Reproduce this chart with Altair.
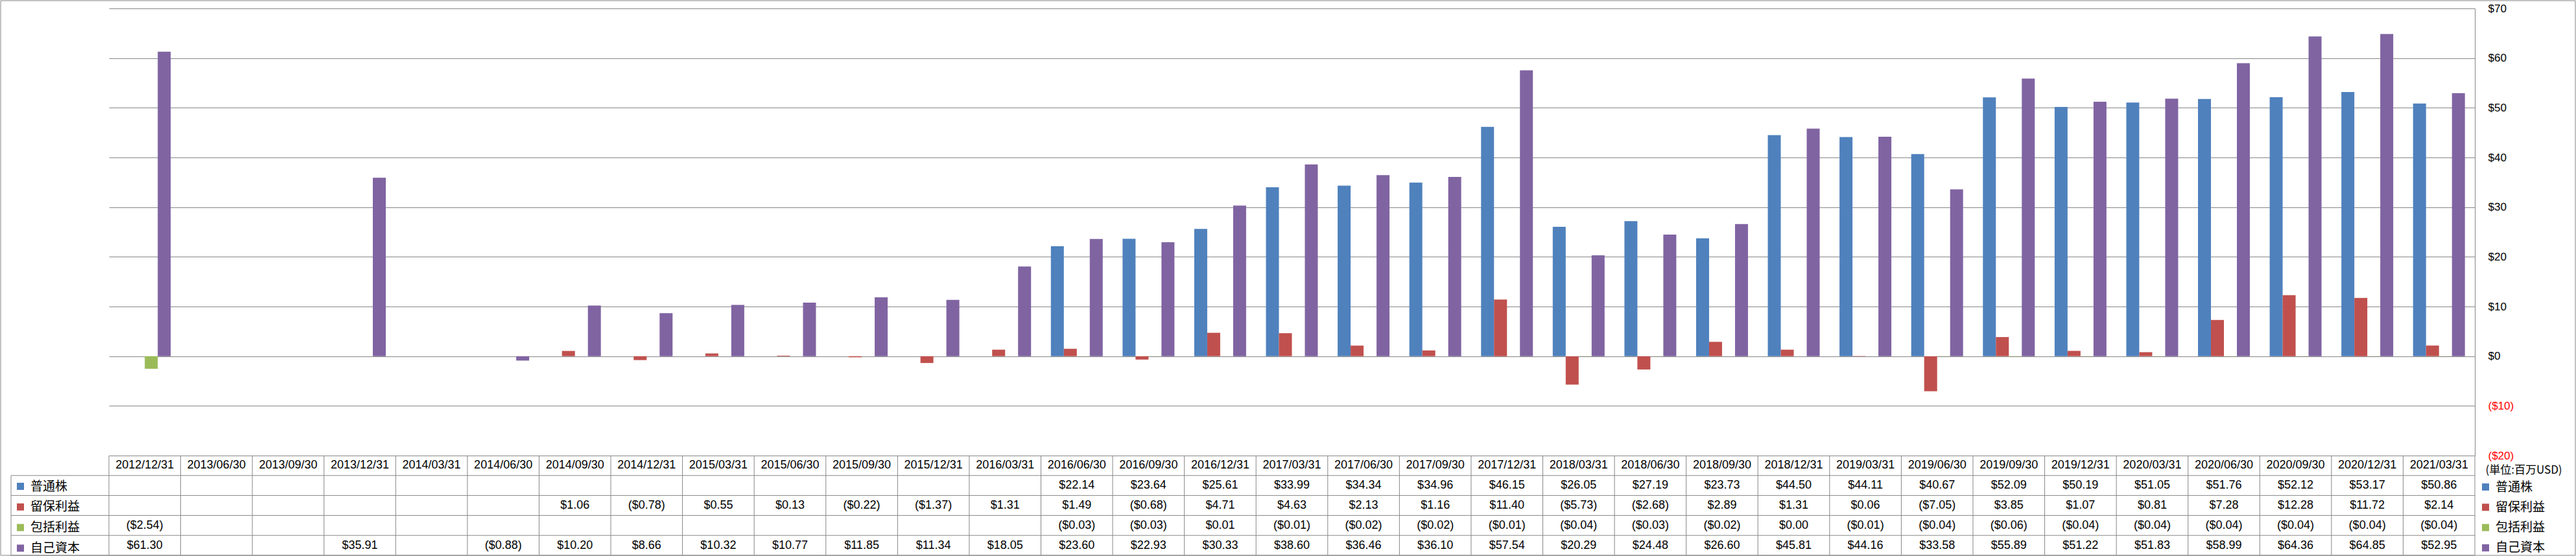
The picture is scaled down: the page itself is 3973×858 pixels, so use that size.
import altair as alt
import pandas as pd

periods = ["2012/12/31", "2013/06/30", "2013/09/30", "2013/12/31", "2014/03/31", "2014/06/30",
           "2014/09/30", "2014/12/31", "2015/03/31", "2015/06/30", "2015/09/30", "2015/12/31",
           "2016/03/31", "2016/06/30", "2016/09/30", "2016/12/31", "2017/03/31", "2017/06/30",
           "2017/09/30", "2017/12/31", "2018/03/31", "2018/06/30", "2018/09/30", "2018/12/31",
           "2019/03/31", "2019/06/30", "2019/09/30", "2019/12/31", "2020/03/31", "2020/06/30",
           "2020/09/30", "2020/12/31", "2021/03/31"]
series_names = ["普通株", "留保利益", "包括利益", "自己資本"]
colors = ["#4F81BD", "#C0504D", "#9BBB59", "#8064A2"]

common = [None] * 13 + [22.14, 23.64, 25.61, 33.99, 34.34, 34.96, 46.15, 26.05, 27.19, 23.73,
                        44.50, 44.11, 40.67, 52.09, 50.19, 51.05, 51.76, 52.12, 53.17, 50.86]
retained = [None] * 6 + [1.06, -0.78, 0.55, 0.13, -0.22, -1.37, 1.31, 1.49, -0.68, 4.71, 4.63,
                         2.13, 1.16, 11.40, -5.73, -2.68, 2.89, 1.31, 0.06, -7.05, 3.85, 1.07,
                         0.81, 7.28, 12.28, 11.72, 2.14]
comprehensive = [-2.54] + [None] * 12 + [-0.03, -0.03, 0.01, -0.01, -0.02, -0.02, -0.01, -0.04,
                                         -0.03, -0.02, 0.00, -0.01, -0.04, -0.06, -0.04, -0.04,
                                         -0.04, -0.04, -0.04, -0.04]
equity = [61.30, None, None, 35.91, None, -0.88, 10.20, 8.66, 10.32, 10.77, 11.85, 11.34, 18.05,
          23.60, 22.93, 30.33, 38.60, 36.46, 36.10, 57.54, 20.29, 24.48, 26.60, 45.81, 44.16,
          33.58, 55.89, 51.22, 51.83, 58.99, 64.36, 64.85, 52.95]
y_ticks = [-20, -10, 0, 10, 20, 30, 40, 50, 60, 70]

rows = []
for si, (name, vals) in enumerate(zip(series_names, [common, retained, comprehensive, equity])):
    for p, v in zip(periods, vals):
        rows.append({"period": p, "series": name, "sidx": si, "v": v})
df = pd.DataFrame(rows)
pdf = pd.DataFrame({"period": periods})

W, H = 3649, 690
LAT = "Liberation Sans"
CJK = "Noto Sans CJK JP"
GRID = "#878787"

xenc = alt.X("period:N", sort=periods, scale=alt.Scale(paddingInner=0, paddingOuter=0), axis=None)
ty = alt.Scale(domain=[0, 5], range=[H, H + 154], nice=False, zero=False)
cscale = alt.Scale(domain=series_names, range=colors)

bars = alt.Chart(df).transform_filter("isValid(datum.v)").mark_bar().encode(
    x=xenc,
    xOffset=alt.XOffset("series:N", sort=series_names,
                        scale=alt.Scale(paddingInner=0, paddingOuter=0.765)),
    y=alt.Y("v:Q", scale=alt.Scale(domain=[-20, 70], nice=False, zero=False),
            axis=alt.Axis(orient="right", values=y_ticks, grid=True, gridColor=GRID,
                          gridWidth=1, domain=True, domainColor=GRID, ticks=False,
                          tickSize=0, labelPadding=20, labelFont=LAT, labelFontSize=17,
                          labelExpr="datum.value < 0 ? '($' + (-datum.value) + ')' : '$' + datum.value",
                          labelColor={"condition": {"test": "datum.value < 0", "value": "#FF0000"},
                                      "value": "#000000"},
                          title="(単位:百万USD)", titleX=16, titleY=712, titleAngle=0,
                          titleAlign="left", titleBaseline="middle", titleFont=CJK,
                          titleFontSize=17, titleFontWeight="normal", titleColor="#000000")),
    color=alt.Color("series:N", sort=series_names, scale=cscale,
                    legend=alt.Legend(orient="none", legendX=3656, legendY=729, title=None,
                                      symbolType="square", symbolSize=121, symbolStrokeWidth=0,
                                      labelFont=CJK, labelFontSize=19, labelOffset=6,
                                      rowPadding=11.3, padding=0, labelColor="#000000")),
)

# left label column of the data table (a second legend)
leftleg = alt.Chart(df).mark_square(opacity=0).encode(
    x=xenc,
    y=alt.Y("r:Q", scale=ty, axis=None),
    color=alt.Color("series:N", sort=series_names, scale=cscale,
                    legend=alt.Legend(orient="none", legendX=-146, legendY=728, title=None,
                                      symbolType="square", symbolSize=121, symbolStrokeWidth=0,
                                      symbolOpacity=1, labelFont=CJK, labelFontSize=19,
                                      labelOffset=6, rowPadding=11.8, padding=0,
                                      labelColor="#000000")),
).transform_calculate(r="datum.sidx + 1.5")

header = alt.Chart(pdf).mark_text(font=LAT, fontSize=18, color="#000000").encode(
    x=xenc,
    y=alt.Y("r:Q", scale=ty, axis=None),
    text="period:N",
).transform_calculate(r="0.5")

cells = alt.Chart(df).transform_filter("isValid(datum.v)").transform_calculate(
    r="datum.sidx + 1.5",
    lab="datum.v < 0 ? '($' + format(-datum.v, '.2f') + ')' : '$' + format(datum.v, '.2f')",
).mark_text(font=LAT, fontSize=18, color="#000000").encode(
    x=xenc,
    y=alt.Y("r:Q", scale=ty, axis=None),
    text="lab:N",
)

vlines = alt.Chart(pdf).transform_calculate(r0="0", r1="5").mark_rule(
    color=GRID, strokeWidth=1).encode(
    x=alt.X("period:N", sort=periods, bandPosition=0,
            scale=alt.Scale(paddingInner=0, paddingOuter=0), axis=None),
    y=alt.Y("r0:Q", scale=ty, axis=None),
    y2="r1:Q",
)
vlast = alt.Chart(pdf).transform_filter(f"datum.period == '{periods[-1]}'").transform_calculate(
    r0="0", r1="5").mark_rule(color=GRID, strokeWidth=1).encode(
    x=alt.X("period:N", sort=periods, bandPosition=1,
            scale=alt.Scale(paddingInner=0, paddingOuter=0), axis=None),
    y=alt.Y("r0:Q", scale=ty, axis=None),
    y2="r1:Q",
)
hlines = alt.Chart(pd.DataFrame({"r": [1, 2, 3, 4, 5]})).mark_rule(
    color=GRID, strokeWidth=1).encode(
    x=alt.value(-151), x2=alt.value(W),
    y=alt.Y("r:Q", scale=ty, axis=None),
)
vleft = alt.Chart(pd.DataFrame({"r0": [1], "r1": [5]})).mark_rule(
    color=GRID, strokeWidth=1).encode(
    x=alt.value(-151),
    y=alt.Y("r0:Q", scale=ty, axis=None),
    y2="r1:Q",
)
frame = alt.Chart(pd.DataFrame({"a": [0]})).mark_rect(
    fillOpacity=0, stroke=GRID, strokeWidth=1).encode(
    x=alt.value(-167), x2=alt.value(W + 155), y=alt.value(-12), y2=alt.value(H + 154),
)

chart = alt.layer(bars, leftleg, header, cells, vlines, vlast, hlines, vleft, frame).resolve_scale(
    y="independent", color="independent"
).properties(
    width=W, height=H,
    autosize=alt.AutoSizeParams(type="none"),
    padding={"left": 168, "top": 13, "right": 156, "bottom": 155},
    background="white",
).configure_view(strokeWidth=0)

chart.save("out.html", embed_options={"renderer": "svg", "actions": False})
